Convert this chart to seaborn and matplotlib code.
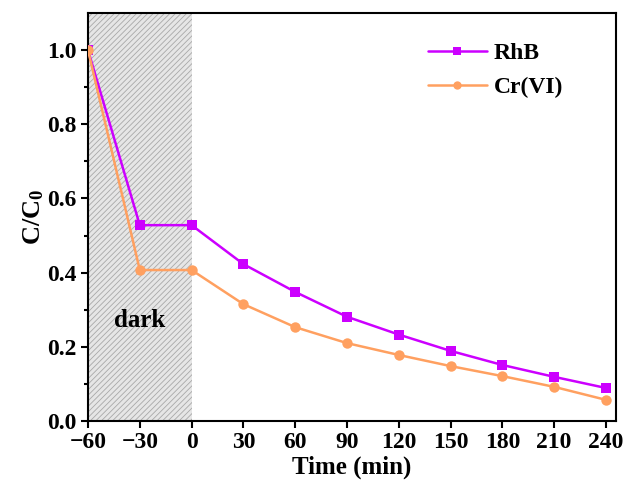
import matplotlib
matplotlib.use("Agg")
import matplotlib.pyplot as plt
import seaborn as sns
import pandas as pd

time = [-60, -30, 0, 30, 60, 90, 120, 150, 180, 210, 240]
rhb = [1.0, 0.528, 0.528, 0.423, 0.348, 0.281, 0.233, 0.189, 0.151, 0.119, 0.089]
cr6 = [1.0, 0.407, 0.407, 0.315, 0.253, 0.210, 0.178, 0.148, 0.121, 0.092, 0.057]
xticks = [-60, -30, 0, 30, 60, 90, 120, 150, 180, 210, 240]
yticks = [0.0, 0.2, 0.4, 0.6, 0.8, 1.0]

sns.set_style("ticks")
plt.rcParams['font.family'] = ['Liberation Serif', 'DejaVu Serif']
plt.rcParams['font.weight'] = 'bold'
plt.rcParams['mathtext.fontset'] = 'custom'
plt.rcParams['mathtext.rm'] = 'Liberation Serif:bold'
plt.rcParams['mathtext.it'] = 'Liberation Serif:bold'
plt.rcParams['mathtext.bf'] = 'Liberation Serif:bold'
plt.rcParams['text.color'] = 'black'
plt.rcParams['axes.labelcolor'] = 'black'
plt.rcParams['xtick.color'] = 'black'
plt.rcParams['ytick.color'] = 'black'
plt.rcParams['axes.edgecolor'] = 'black'
plt.rcParams['hatch.color'] = '#a8a8a8'
plt.rcParams['hatch.linewidth'] = 0.6

df = pd.DataFrame({"Time": time * 2, "C": rhb + cr6,
                   "Series": ["RhB"] * len(time) + ["Cr(VI)"] * len(time)})

fig = plt.figure(figsize=(6.27, 4.86), dpi=100)
ax = fig.add_axes([88/627, 65/486, 528/627, 408/486])

ax.axvspan(-60, 0, facecolor='#e6e6e6', edgecolor='#a8a8a8', hatch='//////', linewidth=0, zorder=0)

palette = {"RhB": "#CC00FF", "Cr(VI)": "#FFA060"}
sns.lineplot(data=df, x="Time", y="C", hue="Series", style="Series",
             markers={"RhB": "s", "Cr(VI)": "o"}, dashes=False, palette=palette,
             markersize=7.5, markeredgewidth=0, linewidth=1.8, ax=ax, zorder=3)

ax.set_xlim(-60, 245.8)
ax.set_ylim(0, 1.1)
ax.set_xticks(xticks)
ax.set_xticklabels([str(t).replace('-', '\u2212') for t in xticks])
ax.set_yticks(yticks)
ax.set_yticks([0.1, 0.3, 0.5, 0.7, 0.9], minor=True)
ax.tick_params(axis='both', which='major', direction='out', length=5, width=1.5, labelsize=17, pad=3)
ax.tick_params(axis='y', which='minor', direction='out', length=3, width=1.5)
for s in ax.spines.values():
    s.set_linewidth(1.5)

ax.set_xlabel("Time (min)", fontsize=18, fontweight='bold', labelpad=2)
ax.set_ylabel("C/C$_{0}$", fontsize=19, fontweight='bold', labelpad=1)
for lab in ax.get_xticklabels() + ax.get_yticklabels():
    lab.set_fontweight('bold')

ax.text(-30, 0.27, "dark", fontsize=18, fontweight='bold', ha='center', va='center')

leg = ax.legend(loc='upper right', bbox_to_anchor=(0.94, 0.98), frameon=False,
                fontsize=17, handlelength=2.5, handletextpad=0.3, labelspacing=0.55,
                markerscale=0.8)
leg.set_title(None)

fig.savefig("out.png", dpi=100)
